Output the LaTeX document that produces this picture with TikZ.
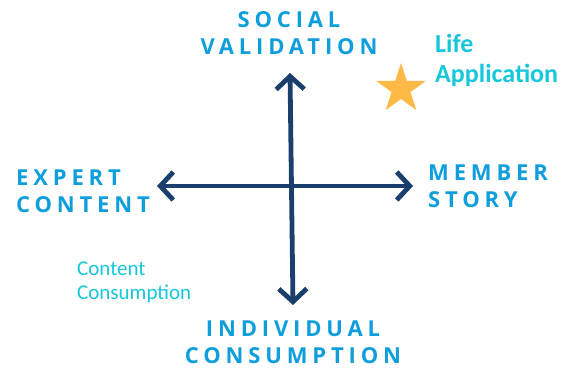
\documentclass[tikz,border=0pt]{standalone}
\usepackage{fontspec}
\setmainfont{Open Sans}
\newfontfamily\calfont{Carlito}
\usetikzlibrary{arrows.meta,shapes.geometric}
\definecolor{axisnavy}{HTML}{1B3F6C}
\definecolor{labelblue}{HTML}{0E9EDB}
\definecolor{notecyan}{HTML}{16C7D9}
\definecolor{stargold}{HTML}{FFB947}
\tikzstyle{axis} = [line width=4.8pt, draw=axisnavy, line cap=round, line join=round, {Straight Barb[length=13pt,width=28pt]}-{Straight Barb[length=13pt,width=28pt]}]
\tikzstyle{pole} = [text=labelblue, font=\fontsize{22}{27}\selectfont\bfseries\addfontfeature{LetterSpace=22}, inner sep=0pt]
\tikzstyle{note} = [text=notecyan, font=\calfont\fontsize{21}{24}\selectfont, inner sep=0pt, align=left]

\begin{document}
\begin{tikzpicture}[x=1pt,y=-1pt]
        \useasboundingbox (0,0) rectangle (572,367);

        % axis ends
        \coordinate (top) at (290,73);
        \coordinate (bottom) at (293,305);
        \coordinate (left) at (157,186);
        \coordinate (right) at (413,186);

        \draw[axis] (top) -- (bottom);
        \draw[axis] (left) -- (right);

        \node[pole, align=center, anchor=base] (social) at (289,54) {SOCIAL\\VALIDATION};
        \node[pole, align=left, anchor=base west] (expert) at (16,212) {EXPERT\\CONTENT};
        \node[pole, align=left, anchor=base west] (member) at (428,207) {MEMBER\\STORY};
        \node[pole, align=center, anchor=base] (individual) at (293,363) {INDIVIDUAL\\CONSUMPTION};

        \node[star, star points=5, star point ratio=2.6, minimum size=52pt, inner sep=0pt, fill=stargold] (star) at (401,89) {};
        \node[note, font=\calfont\fontsize{26}{30}\selectfont\bfseries, anchor=base west] (life) at (435,82) {Life\\Application};
        \node[note, anchor=base west] (consumption) at (77,299) {Content\\Consumption};
    \end{tikzpicture}
\end{document}
